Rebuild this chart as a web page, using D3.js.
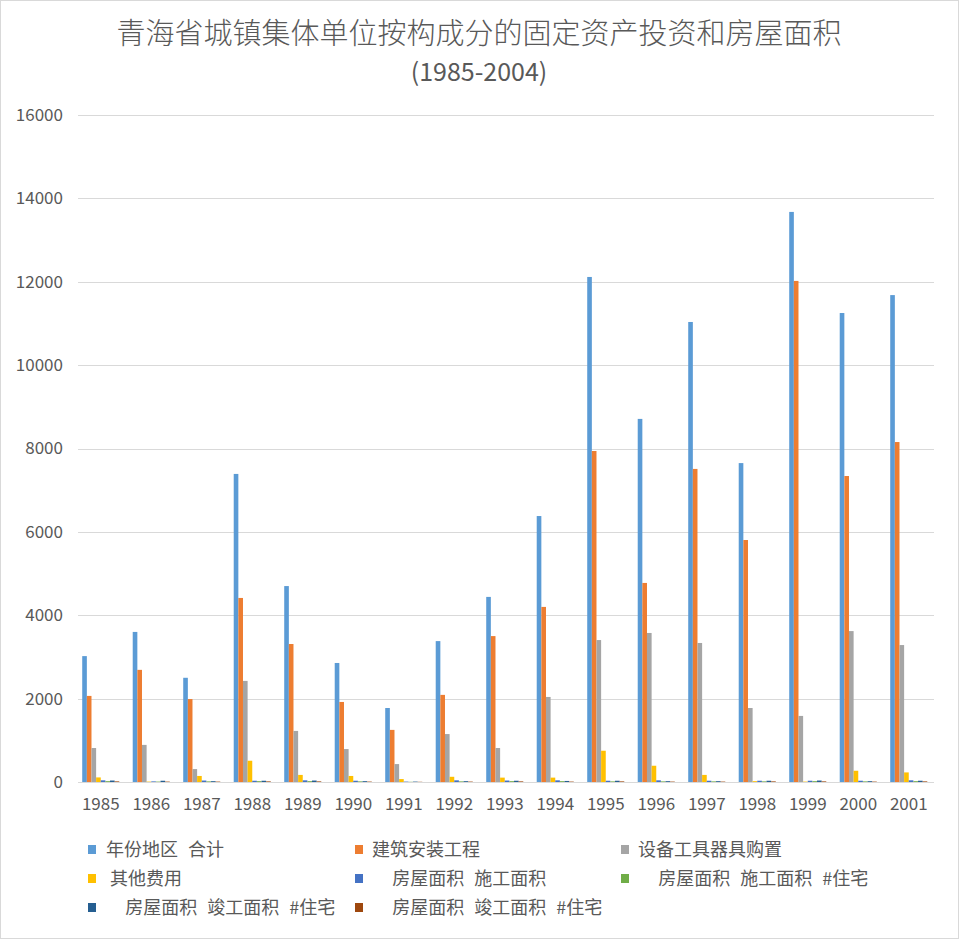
<!DOCTYPE html>
<html>
<head>
<meta charset="utf-8">
<script src="https://cdn.jsdelivr.net/npm/d3@7"></script>
<style>
  html, body { margin: 0; padding: 0; background: #fff; }
  svg { display: block; }
  text { font-family: "Noto Sans CJK SC", "Noto Sans", sans-serif; fill: #595959; }
</style>
</head>
<body>
<svg id="chart" width="959" height="939"></svg>
<script>
const W = 959, H = 939;

const years = ["1985","1986","1987","1988","1989","1990","1991","1992","1993","1994","1995","1996","1997","1998","1999","2000","2001"];
const seriesNames = ["年份地区  合计", "建筑安装工程", "设备工具器具购置", "其他费用",
  "    房屋面积  施工面积", "    房屋面积  施工面积  #住宅", "    房屋面积  竣工面积  #住宅", "    房屋面积  竣工面积  #住宅"];
const colors = ["#5B9BD5", "#ED7D31", "#A5A5A5", "#FFC000", "#4472C4", "#70AD47", "#255E91", "#9E480E"];

const total     = [3020, 3600, 2500, 7390, 4700, 2855, 1775, 3380, 4440, 6380, 12115, 8710, 11035, 7650, 13675, 11250, 11680];
const build     = [2065, 2690, 1990, 4415, 3310, 1920, 1250, 2090, 3500, 4200, 7940, 4775, 7510, 5805, 12020, 7340, 8155];
const equip     = [815, 890, 310, 2425, 1225, 790, 430, 1150, 815, 2040, 3405, 3575, 3335, 1775, 1585, 3620, 3285];
const other     = [110, 10, 145, 510, 170, 145, 70, 125, 105, 105, 750, 390, 170, 20, 10, 270, 230];
const areaBuild = [40, 15, 35, 30, 40, 30, 10, 40, 35, 40, 30, 40, 30, 30, 30, 30, 40];
const areaBuildRes = [20, 10, 15, 20, 20, 15, 5, 15, 20, 20, 15, 15, 15, 15, 20, 15, 20];
const areaDoneRes  = [35, 30, 20, 30, 35, 20, 10, 20, 30, 25, 30, 20, 20, 30, 35, 20, 30];
const areaDoneRes2 = [15, 10, 10, 15, 15, 10, 5, 10, 15, 10, 15, 10, 10, 15, 15, 10, 15];
const seriesValues = [total, build, equip, other, areaBuild, areaBuildRes, areaDoneRes, areaDoneRes2];

const yTicks = [0, 2000, 4000, 6000, 8000, 10000, 12000, 14000, 16000];

const svg = d3.select("#chart");

// 外框
svg.append("rect")
  .attr("x", 0.5).attr("y", 0.5)
  .attr("width", W - 1).attr("height", H - 1)
  .attr("fill", "#fff").attr("stroke", "#d9d9d9");

// 标题
svg.append("text")
  .attr("x", 479).attr("y", 44)
  .attr("text-anchor", "middle")
  .style("font-size", "29px").style("font-weight", 300)
  .text("青海省城镇集体单位按构成分的固定资产投资和房屋面积");
svg.append("text")
  .attr("x", 479).attr("y", 81)
  .attr("text-anchor", "middle")
  .style("font-size", "25px").style("font-weight", 400)
  .text("(1985-2004)");

const x0 = d3.scaleBand().domain(years).range([75.5, 934]);
const x1 = d3.scaleBand().domain(d3.range(seriesNames.length))
  .range([0, x0.bandwidth()]).paddingOuter(1.45);
const y = d3.scaleLinear().domain([0, 16000]).range([782, 115]);

// 网格线
svg.append("g")
  .selectAll("line")
  .data(yTicks)
  .join("line")
  .attr("x1", 78).attr("x2", 934)
  .attr("y1", d => Math.round(y(d)) + 0.5)
  .attr("y2", d => Math.round(y(d)) + 0.5)
  .attr("stroke", "#d9d9d9").attr("stroke-width", 1);

// y轴
const yAxis = svg.append("g")
  .attr("transform", "translate(63,0)")
  .call(d3.axisLeft(y).tickValues(yTicks).tickSize(0).tickPadding(0).tickFormat(d3.format("d")));
yAxis.select(".domain").remove();
yAxis.selectAll("text").style("font-size", "17px").style("font-weight", 400).attr("fill", "#595959");

// 柱子
const groups = svg.append("g")
  .selectAll("g")
  .data(years)
  .join("g")
  .attr("transform", d => `translate(${x0(d)},0)`);

groups.selectAll("rect")
  .data((d, i) => seriesValues.map((vals, s) => ({ s, v: vals[i] })))
  .join("rect")
  .attr("x", d => x1(d.s))
  .attr("width", x1.bandwidth())
  .attr("y", d => y(d.v))
  .attr("height", d => y(0) - y(d.v))
  .attr("fill", d => colors[d.s]);

// x轴
const xAxis = svg.append("g")
  .attr("transform", "translate(0,782)")
  .call(d3.axisBottom(x0).tickSize(0).tickPadding(16));
xAxis.select(".domain").attr("stroke", "#d9d9d9").attr("d", "M78,0.5H934");
xAxis.selectAll("text").style("font-size", "17px").style("font-weight", 400).attr("fill", "#595959");

// 图例
const legendPos = [
  [88, 850], [355, 850], [621, 850],
  [88, 879], [355, 879], [621, 879],
  [88, 908], [355, 908]
];
const legend = svg.append("g")
  .selectAll("g")
  .data(seriesNames)
  .join("g")
  .attr("transform", (d, i) => `translate(${legendPos[i][0]},${legendPos[i][1]})`);
legend.append("rect")
  .attr("x", 0).attr("y", -5)
  .attr("width", 8).attr("height", 9)
  .attr("fill", (d, i) => colors[i]);
legend.append("text")
  .attr("x", (d, i) => i === 0 ? 18 : (i === 3 ? 22 : 17))
  .attr("y", 0)
  .attr("dy", "0.36em")
  .style("font-size", "18px").style("font-weight", 400)
  .style("white-space", "pre")
  .style("word-spacing", "1px")
  .attr("xml:space", "preserve")
  .text(d => d);
</script>
</body>
</html>
